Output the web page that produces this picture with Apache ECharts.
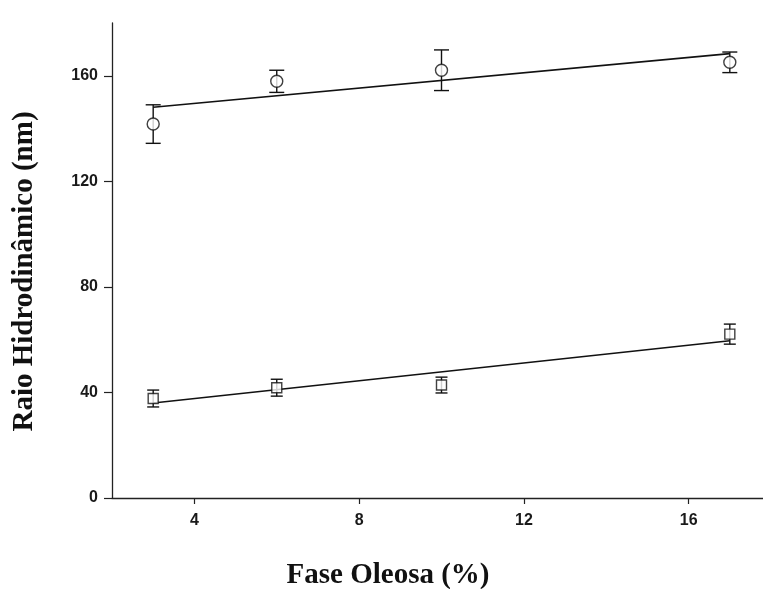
<!DOCTYPE html>
<html>
<head>
<meta charset="utf-8">
<script src="https://cdn.jsdelivr.net/npm/echarts@6/dist/echarts.min.js"></script>
<style>
  html, body { margin: 0; padding: 0; background: #fff; }
  #chart { width: 763px; height: 589px; }
</style>
</head>
<body>
<div id="chart"></div>
<script>
// Oil phase content (%)
const faseOleosa = [3, 6, 10, 17];

// Hydrodynamic radius (nm): upper series (circles) and lower series (squares)
const raioCirculos = [141.7, 157.9, 162.1, 165.1];
const erroCirculos = [7.3, 4.2, 7.7, 3.9];
const raioQuadrados = [37.7, 41.8, 42.8, 62.1];
const erroQuadrados = [3.2, 3.2, 3.0, 3.8];

// Linear trend lines (end points)
const tendenciaCirculos = [[3, 148.1], [17, 168.4]];
const tendenciaQuadrados = [[3, 36.0], [17, 59.6]];

// Axis ticks
const ticksX = [4, 8, 12, 16];
const ticksY = [0, 40, 80, 120, 160];

const pontos = (xs, ys) => xs.map((x, i) => [x, ys[i]]);
const barras = (xs, ys, es) => xs.map((x, i) => [x, ys[i] - es[i], ys[i] + es[i]]);

function errorBar(capHalf) {
  return function (params, api) {
    const x = api.value(0);
    const lo = api.coord([x, api.value(1)]);
    const hi = api.coord([x, api.value(2)]);
    const style = { stroke: '#111', lineWidth: 1.4 };
    return {
      type: 'group',
      children: [
        { type: 'line', shape: { x1: lo[0], y1: lo[1], x2: hi[0], y2: hi[1] }, style },
        { type: 'line', shape: { x1: lo[0] - capHalf, y1: lo[1], x2: lo[0] + capHalf, y2: lo[1] }, style },
        { type: 'line', shape: { x1: hi[0] - capHalf, y1: hi[1], x2: hi[0] + capHalf, y2: hi[1] }, style }
      ]
    };
  };
}

const tickFont = { fontFamily: 'Liberation Sans', fontWeight: 'bold', fontSize: 16, color: '#1a1a1a' };
const titleFont = { fontFamily: 'Liberation Serif', fontWeight: 'bold', fontSize: 29, color: '#111' };
const axisLine = { show: true, lineStyle: { color: '#222', width: 1.3 } };

const chart = echarts.init(document.getElementById('chart'), null, { renderer: 'canvas' });
chart.setOption({
  animation: false,
  backgroundColor: '#fff',
  grid: { left: 112, right: -8, top: 23, bottom: 91, outerBoundsMode: 'none' },
  xAxis: {
    type: 'value',
    min: 2,
    max: 18,
    name: 'Fase Oleosa (%)',
    nameLocation: 'middle',
    nameGap: 63,
    nameTextStyle: Object.assign({ padding: [0, 107, 0, 0] }, titleFont),
    axisLine: axisLine,
    axisTick: { show: true, length: 6, customValues: ticksX, lineStyle: { color: '#222', width: 1.2 } },
    axisLabel: Object.assign({ margin: 15, customValues: ticksX }, tickFont),
    splitLine: { show: false }
  },
  yAxis: {
    type: 'value',
    min: 0,
    max: 180,
    name: 'Raio Hidrodinâmico (nm)',
    nameLocation: 'middle',
    nameGap: 73,
    nameTextStyle: Object.assign({ padding: [0, 22, 0, 0] }, titleFont),
    axisLine: axisLine,
    axisTick: { show: true, length: 8, customValues: ticksY, lineStyle: { color: '#222', width: 1.2 } },
    axisLabel: Object.assign({ margin: 14, customValues: ticksY }, tickFont),
    splitLine: { show: false }
  },
  series: [
    {
      type: 'line',
      data: tendenciaCirculos,
      showSymbol: false,
      lineStyle: { color: '#111', width: 1.6 },
      z: 1
    },
    {
      type: 'line',
      data: tendenciaQuadrados,
      showSymbol: false,
      lineStyle: { color: '#111', width: 1.6 },
      z: 1
    },
    {
      type: 'custom',
      data: barras(faseOleosa, raioCirculos, erroCirculos),
      renderItem: errorBar(7.5),
      z: 2
    },
    {
      type: 'custom',
      data: barras(faseOleosa, raioQuadrados, erroQuadrados),
      renderItem: errorBar(6),
      z: 2
    },
    {
      type: 'scatter',
      data: pontos(faseOleosa, raioCirculos),
      symbol: 'circle',
      symbolSize: 12,
      itemStyle: { color: '#fff', borderColor: '#111', borderWidth: 1.4 },
      z: 3
    },
    {
      type: 'scatter',
      data: pontos(faseOleosa, raioQuadrados),
      symbol: 'rect',
      symbolSize: 10,
      itemStyle: { color: '#fff', borderColor: '#111', borderWidth: 1.4 },
      z: 3
    }
  ]
});
</script>
</body>
</html>
